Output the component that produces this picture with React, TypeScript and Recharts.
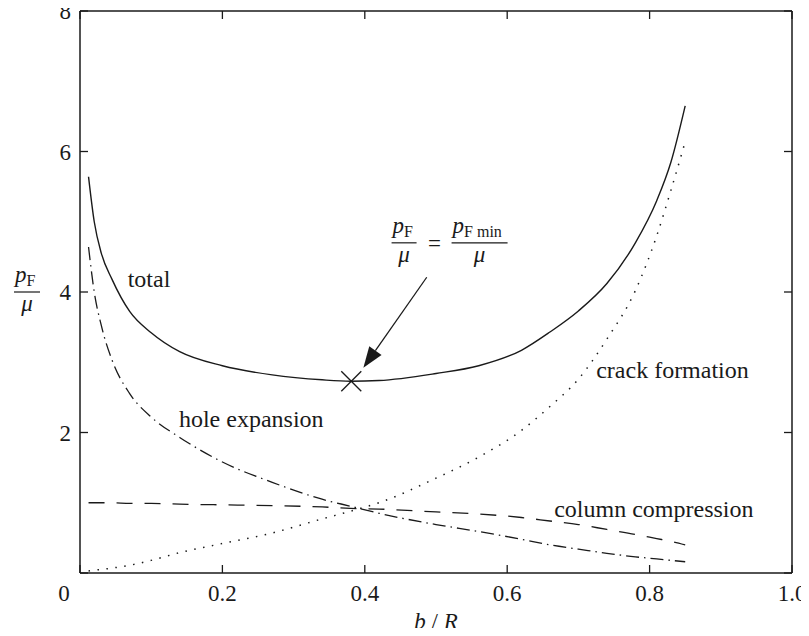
import React from 'react';
import { ComposedChart, Line, XAxis, YAxis, Scatter, ReferenceDot, ReferenceLine } from 'recharts';

// values
const bOverR = [0.012, 0.02, 0.03, 0.045, 0.07, 0.1, 0.14, 0.2, 0.27, 0.34, 0.38, 0.42, 0.5, 0.56, 0.62, 0.66, 0.7, 0.74, 0.78, 0.81, 0.83, 0.85];
const total = [5.64, 5.0, 4.55, 4.18, 3.72, 3.42, 3.15, 2.95, 2.82, 2.75, 2.73, 2.74, 2.84, 2.95, 3.17, 3.43, 3.73, 4.12, 4.7, 5.3, 5.85, 6.65];
const holeExpansion = [4.64, 4.0, 3.52, 3.03, 2.55, 2.22, 1.93, 1.58, 1.29, 1.05, 0.95, 0.85, 0.69, 0.59, 0.48, 0.4, 0.34, 0.28, 0.23, 0.2, 0.18, 0.16];
const columnCompression = [1.0, 1.0, 1.0, 1.0, 0.99, 0.99, 0.98, 0.97, 0.96, 0.94, 0.92, 0.91, 0.87, 0.84, 0.79, 0.74, 0.69, 0.62, 0.55, 0.49, 0.45, 0.4];
const crackFormation = [0.03, 0.04, 0.05, 0.07, 0.11, 0.18, 0.29, 0.42, 0.57, 0.77, 0.88, 1.0, 1.35, 1.65, 2.03, 2.37, 2.76, 3.33, 4.02, 4.8, 5.45, 6.14];

const xTicks = [0, 0.2, 0.4, 0.6, 0.8, 1.0];
const xTickLabels = ['0', '0.2', '0.4', '0.6', '0.8', '1.0'];
const yTicks = [0, 2, 4, 6, 8];
const yTickLabels = ['', '2', '4', '6', '8'];

const minimum = [{ x: 0.381, y: 2.73 }];

const data = bOverR.map((x, i) => ({
  x,
  total: total[i],
  hole: holeExpansion[i],
  column: columnCompression[i],
  crack: crackFormation[i],
}));

const FONT = 'Liberation Serif, DejaVu Serif, serif';
const INK = '#1a1a1a';
const TICK = 8;
const txt = { fontFamily: FONT, fontSize: 23, fill: INK };
const big = { ...txt, fontSize: 24 };

const BottomTick = (props: any) => {
  const { x, y, payload } = props;
  const i = xTicks.indexOf(payload.value);
  return (
    <g>
      <line x1={x} y1={y} x2={x} y2={y - TICK} stroke={INK} strokeWidth={1.3} />
      <text x={payload.value === 0 ? x - 16 : x} y={y + 28} textAnchor="middle" style={txt}>
        {xTickLabels[i]}
      </text>
    </g>
  );
};

const TopTick = (props: any) => {
  const { x, y } = props;
  return <line x1={x} y1={y} x2={x} y2={y + TICK} stroke={INK} strokeWidth={1.3} />;
};

const LeftTick = (props: any) => {
  const { x, y, payload } = props;
  const i = yTicks.indexOf(payload.value);
  return (
    <g>
      <line x1={x} y1={y} x2={x + TICK} y2={y} stroke={INK} strokeWidth={1.3} />
      <text x={x - 9} y={y + 8} textAnchor="end" style={txt}>
        {yTickLabels[i]}
      </text>
    </g>
  );
};

const RightTick = (props: any) => {
  const { x, y } = props;
  return <line x1={x} y1={y} x2={x - TICK} y2={y} stroke={INK} strokeWidth={1.3} />;
};

// p_F over mu, bar starting at (x0, y0)
const Fraction = ({ x0, y0, width, sub }: { x0: number; y0: number; width: number; sub: string }) => (
  <g>
    <text x={x0 + 1} y={y0 - 10} style={{ ...txt, fontStyle: 'italic' }}>
      p
      <tspan style={{ fontStyle: 'normal', fontSize: 16 }} dy={4}>{sub}</tspan>
    </text>
    <line x1={x0} y1={y0} x2={x0 + width} y2={y0} stroke={INK} strokeWidth={1.2} />
    <text x={x0 + width / 2} y={y0 + 19} textAnchor="middle" style={{ ...txt, fontStyle: 'italic' }}>
      μ
    </text>
  </g>
);

const YLabel = (props: any) => {
  const vb = props.viewBox || { x: 0, width: 80, y: 11, height: 562 };
  const cy = vb.y + vb.height / 2;
  return <Fraction x0={vb.x + vb.width - 66} y0={cy} width={26} sub="F" />;
};

const XLabel = (props: any) => {
  const vb = props.viewBox || { x: 80, y: 573, width: 712 };
  return (
    <text x={vb.x + vb.width / 2} y={vb.y + 56} textAnchor="middle" style={txt}>
      <tspan style={{ fontStyle: 'italic' }}>b</tspan>
      <tspan> / </tspan>
      <tspan style={{ fontStyle: 'italic' }}>R</tspan>
    </text>
  );
};

const textLabel = (s: string) => (p: any) => (
  <text x={p.cx} y={p.cy} style={big}>
    {s}
  </text>
);

const Formula = (p: any) => (
  <g>
    <Fraction x0={p.cx} y0={p.cy} width={25} sub="F" />
    <text x={p.cx + 43} y={p.cy + 8} textAnchor="middle" style={txt}>=</text>
    <Fraction x0={p.cx + 60} y0={p.cy} width={56} sub="F min" />
  </g>
);

const Cross = (p: any) => {
  const { cx, cy } = p;
  const s = 10;
  return (
    <g stroke={INK} strokeWidth={1.3}>
      <line x1={cx - s} y1={cy - s} x2={cx + s} y2={cy + s} />
      <line x1={cx - s} y1={cy + s} x2={cx + s} y2={cy - s} />
    </g>
  );
};

const Arrow = (p: any) => {
  const { x1, y1, x2, y2 } = p;
  const dx = x2 - x1;
  const dy = y2 - y1;
  const len = Math.sqrt(dx * dx + dy * dy);
  const ux = dx / len;
  const uy = dy / len;
  const head = 21;
  const half = 7.5;
  const bx = x2 - ux * head;
  const by = y2 - uy * head;
  return (
    <g>
      <line x1={x1} y1={y1} x2={bx} y2={by} stroke={INK} strokeWidth={1.3} />
      <polygon
        points={`${x2},${y2} ${bx - uy * half},${by + ux * half} ${bx + uy * half},${by - ux * half}`}
        fill={INK}
      />
    </g>
  );
};

export default function App() {
  return (
    <div style={{ width: 809, height: 636, margin: -8, background: '#fff' }}>
      <ComposedChart width={809} height={636} data={data} margin={{ top: 0, right: 0, left: 0, bottom: 0 }}>
        <XAxis
          dataKey="x"
          type="number"
          domain={[0, 1]}
          ticks={xTicks}
          height={63}
          tickSize={0}
          tickMargin={0}
          tickLine={false}
          tick={BottomTick}
          axisLine={{ stroke: INK, strokeWidth: 1.5 }}
          label={{ content: XLabel }}
          allowDataOverflow
        />
        <XAxis
          xAxisId="top"
          orientation="top"
          dataKey="x"
          type="number"
          domain={[0, 1]}
          ticks={xTicks}
          height={11}
          tickSize={0}
          tickMargin={0}
          tickLine={false}
          tick={TopTick}
          axisLine={{ stroke: INK, strokeWidth: 1.5 }}
          allowDataOverflow
        />
        <YAxis
          type="number"
          domain={[0, 8]}
          ticks={yTicks}
          width={80}
          tickSize={0}
          tickMargin={0}
          tickLine={false}
          tick={LeftTick}
          axisLine={{ stroke: INK, strokeWidth: 1.5 }}
          label={{ content: YLabel }}
          allowDataOverflow
        />
        <YAxis
          yAxisId="right"
          orientation="right"
          type="number"
          domain={[0, 8]}
          ticks={yTicks}
          width={17}
          tickSize={0}
          tickMargin={0}
          tickLine={false}
          tick={RightTick}
          axisLine={{ stroke: INK, strokeWidth: 1.5 }}
          allowDataOverflow
        />
        <Line dataKey="total" type="monotone" stroke={INK} strokeWidth={1.4} dot={false} isAnimationActive={false} />
        <Line dataKey="hole" type="monotone" stroke={INK} strokeWidth={1.3} strokeDasharray="13 5 1.5 5" dot={false} isAnimationActive={false} />
        <Line dataKey="column" type="monotone" stroke={INK} strokeWidth={1.3} strokeDasharray="16 12" dot={false} isAnimationActive={false} />
        <Line dataKey="crack" type="monotone" stroke={INK} strokeWidth={1.5} strokeDasharray="1.5 7.5" dot={false} isAnimationActive={false} />
        <Scatter data={minimum} dataKey="y" shape={Cross} isAnimationActive={false} />
        <ReferenceLine segment={[{ x: 0.487, y: 4.21 }, { x: 0.398, y: 2.92 }]} shape={Arrow} />
        <ReferenceDot x={0.067} y={4.07} r={0} shape={textLabel('total')} />
        <ReferenceDot x={0.139} y={2.08} r={0} shape={textLabel('hole expansion')} />
        <ReferenceDot x={0.725} y={2.78} r={0} shape={textLabel('crack formation')} />
        <ReferenceDot x={0.666} y={0.8} r={0} shape={textLabel('column compression')} />
        <ReferenceDot x={0.4376} y={4.7} r={0} shape={Formula} />
      </ComposedChart>
    </div>
  );
}
